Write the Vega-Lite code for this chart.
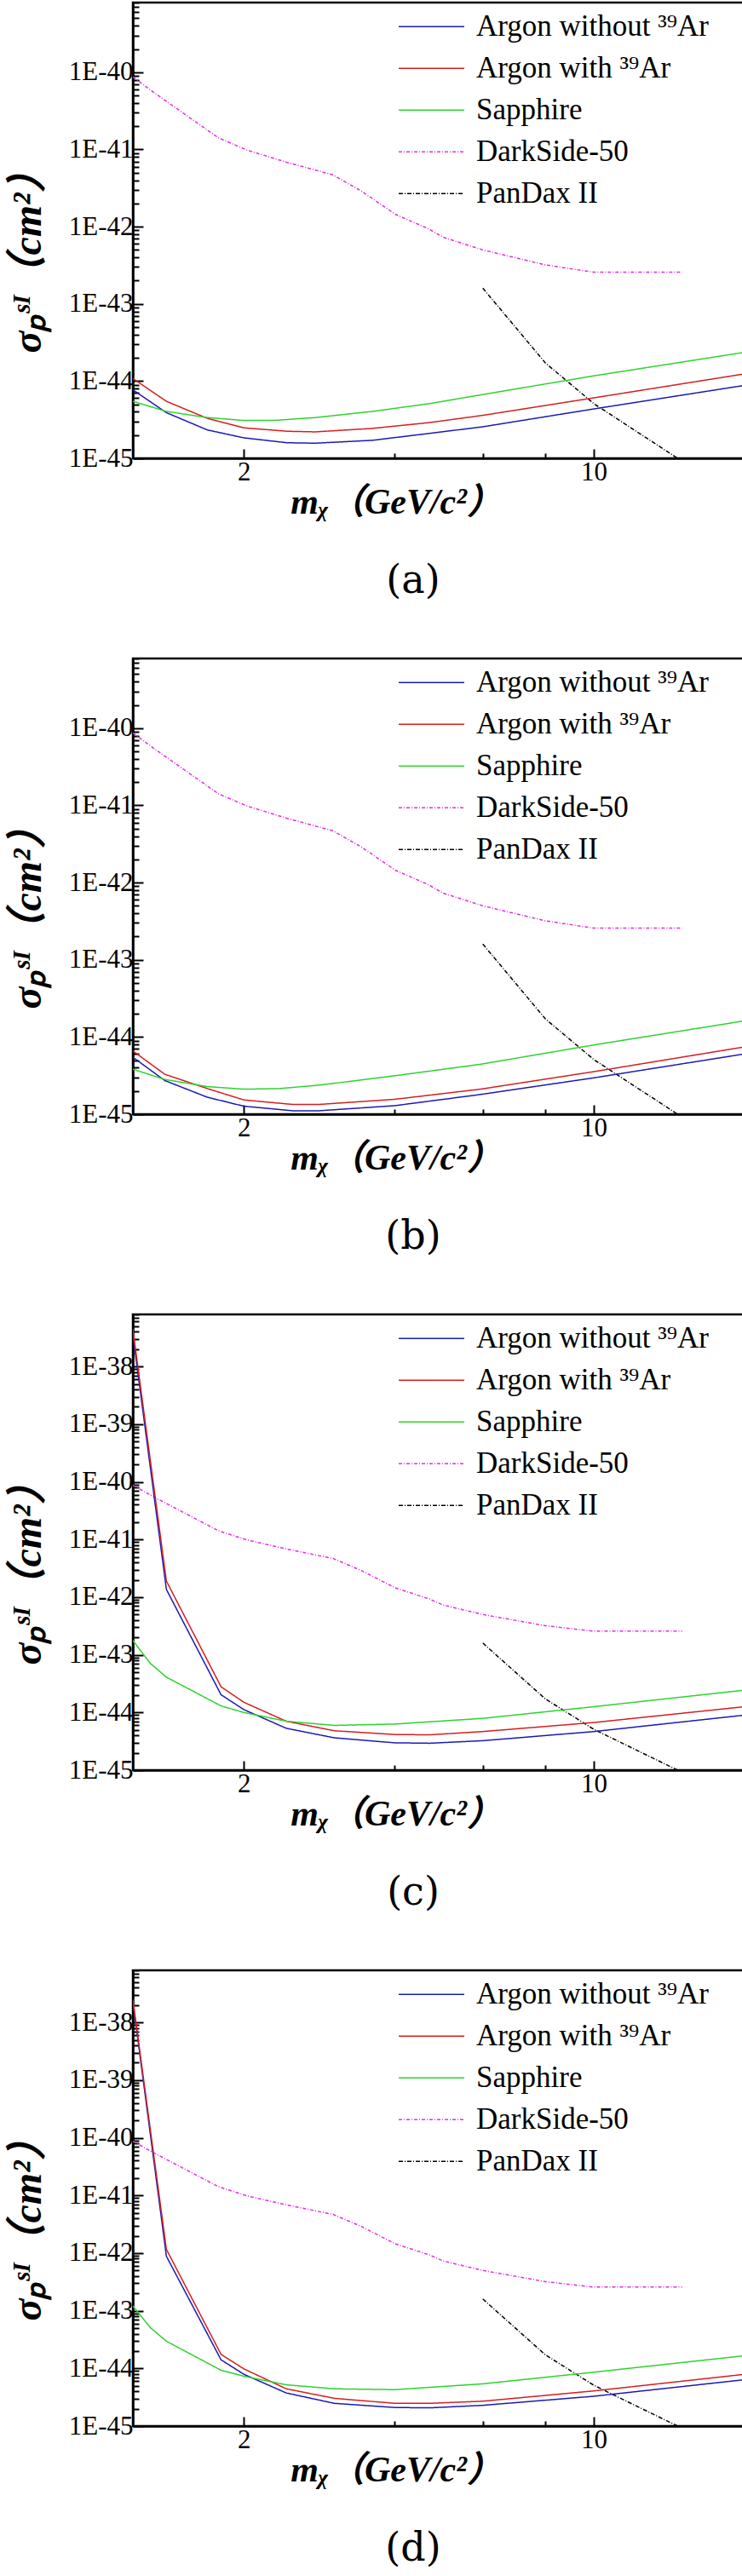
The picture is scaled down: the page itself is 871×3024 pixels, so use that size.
{
  "$schema": "https://vega.github.io/schema/vega-lite/v6.json",
  "background": "white",
  "padding": {"left": 7, "top": 0, "right": 0, "bottom": 0},
  "spacing": 63,
  "config": {
    "view": {"stroke": "black", "strokeWidth": 2.5},
    "axis": {
      "grid": false,
      "domainColor": "black",
      "domainWidth": 2.5,
      "tickColor": "black",
      "tickWidth": 2,
      "labelColor": "black",
      "labelFont": "Liberation Serif",
      "labelFontSize": 31,
      "titleColor": "black",
      "titleFont": "Liberation Serif, Noto Sans CJK SC",
      "titleFontSize": 42,
      "titleFontStyle": "italic",
      "titleFontWeight": "bold"
    },
    "axisY": {"titleFontSize": 48},
    "legend": {
      "labelFont": "Liberation Serif",
      "labelFontSize": 35,
      "labelColor": "black",
      "labelLimit": 600,
      "symbolType": "stroke",
      "symbolSize": 5929,
      "symbolStrokeWidth": 1.5,
      "clipHeight": 48.5,
      "rowPadding": 0,
      "labelOffset": 13,
      "padding": 0
    },
    "title": {
      "font": "DejaVu Serif",
      "fontSize": 46,
      "fontWeight": "normal",
      "color": "black"
    }
  },
  "datasets": {
    "rows": [
      {"p": "ref", "s": "DarkSide-50", "m": 1.2, "y": 8.7e-41},
      {"p": "ref", "s": "DarkSide-50", "m": 1.32, "y": 5.5e-41},
      {"p": "ref", "s": "DarkSide-50", "m": 1.78, "y": 1.41e-41},
      {"p": "ref", "s": "DarkSide-50", "m": 2.03, "y": 9.8e-42},
      {"p": "ref", "s": "DarkSide-50", "m": 2.44, "y": 6.8e-42},
      {"p": "ref", "s": "DarkSide-50", "m": 2.78, "y": 5.4e-42},
      {"p": "ref", "s": "DarkSide-50", "m": 3.01, "y": 4.7e-42},
      {"p": "ref", "s": "DarkSide-50", "m": 3.43, "y": 2.9e-42},
      {"p": "ref", "s": "DarkSide-50", "m": 4.01, "y": 1.45e-42},
      {"p": "ref", "s": "DarkSide-50", "m": 4.69, "y": 9.3e-43},
      {"p": "ref", "s": "DarkSide-50", "m": 5.0, "y": 7.3e-43},
      {"p": "ref", "s": "DarkSide-50", "m": 6.0, "y": 5.0e-43},
      {"p": "ref", "s": "DarkSide-50", "m": 8.0, "y": 3.2e-43},
      {"p": "ref", "s": "DarkSide-50", "m": 10.0, "y": 2.57e-43},
      {"p": "ref", "s": "DarkSide-50", "m": 15.0, "y": 2.57e-43},
      {"p": "ref", "s": "PanDax II", "m": 6.0, "y": 1.6e-43},
      {"p": "ref", "s": "PanDax II", "m": 8.0, "y": 1.72e-44},
      {"p": "ref", "s": "PanDax II", "m": 10.0, "y": 5.1e-45},
      {"p": "ref", "s": "PanDax II", "m": 14.7, "y": 1.0e-45},

      {"p": "a", "s": "Argon without ³⁹Ar", "m": 1.2, "y": 7.7e-45},
      {"p": "a", "s": "Argon without ³⁹Ar", "m": 1.4, "y": 3.9e-45},
      {"p": "a", "s": "Argon without ³⁹Ar", "m": 1.69, "y": 2.33e-45},
      {"p": "a", "s": "Argon without ³⁹Ar", "m": 2.0, "y": 1.84e-45},
      {"p": "a", "s": "Argon without ³⁹Ar", "m": 2.44, "y": 1.59e-45},
      {"p": "a", "s": "Argon without ³⁹Ar", "m": 2.78, "y": 1.57e-45},
      {"p": "a", "s": "Argon without ³⁹Ar", "m": 3.61, "y": 1.71e-45},
      {"p": "a", "s": "Argon without ³⁹Ar", "m": 4.69, "y": 2.1e-45},
      {"p": "a", "s": "Argon without ³⁹Ar", "m": 6.0, "y": 2.56e-45},
      {"p": "a", "s": "Argon without ³⁹Ar", "m": 10.0, "y": 4.36e-45},
      {"p": "a", "s": "Argon without ³⁹Ar", "m": 20.0, "y": 8.8e-45},
      {"p": "a", "s": "Argon with ³⁹Ar", "m": 1.2, "y": 1.08e-44},
      {"p": "a", "s": "Argon with ³⁹Ar", "m": 1.4, "y": 5.47e-45},
      {"p": "a", "s": "Argon with ³⁹Ar", "m": 1.69, "y": 3.29e-45},
      {"p": "a", "s": "Argon with ³⁹Ar", "m": 2.0, "y": 2.48e-45},
      {"p": "a", "s": "Argon with ³⁹Ar", "m": 2.44, "y": 2.24e-45},
      {"p": "a", "s": "Argon with ³⁹Ar", "m": 2.78, "y": 2.2e-45},
      {"p": "a", "s": "Argon with ³⁹Ar", "m": 3.61, "y": 2.44e-45},
      {"p": "a", "s": "Argon with ³⁹Ar", "m": 4.69, "y": 2.9e-45},
      {"p": "a", "s": "Argon with ³⁹Ar", "m": 6.0, "y": 3.6e-45},
      {"p": "a", "s": "Argon with ³⁹Ar", "m": 10.0, "y": 6.07e-45},
      {"p": "a", "s": "Argon with ³⁹Ar", "m": 20.0, "y": 1.24e-44},
      {"p": "a", "s": "Sapphire", "m": 1.2, "y": 5.47e-45},
      {"p": "a", "s": "Sapphire", "m": 1.4, "y": 4.05e-45},
      {"p": "a", "s": "Sapphire", "m": 1.69, "y": 3.37e-45},
      {"p": "a", "s": "Sapphire", "m": 2.0, "y": 3.09e-45},
      {"p": "a", "s": "Sapphire", "m": 2.29, "y": 3.09e-45},
      {"p": "a", "s": "Sapphire", "m": 2.78, "y": 3.37e-45},
      {"p": "a", "s": "Sapphire", "m": 3.61, "y": 4.05e-45},
      {"p": "a", "s": "Sapphire", "m": 4.69, "y": 5.1e-45},
      {"p": "a", "s": "Sapphire", "m": 6.0, "y": 6.7e-45},
      {"p": "a", "s": "Sapphire", "m": 10.0, "y": 1.17e-44},
      {"p": "a", "s": "Sapphire", "m": 20.0, "y": 2.36e-44},

      {"p": "b", "s": "Argon without ³⁹Ar", "m": 1.2, "y": 5.47e-45},
      {"p": "b", "s": "Argon without ³⁹Ar", "m": 1.39, "y": 2.73e-45},
      {"p": "b", "s": "Argon without ³⁹Ar", "m": 1.69, "y": 1.66e-45},
      {"p": "b", "s": "Argon without ³⁹Ar", "m": 2.0, "y": 1.27e-45},
      {"p": "b", "s": "Argon without ³⁹Ar", "m": 2.5, "y": 1.11e-45},
      {"p": "b", "s": "Argon without ³⁹Ar", "m": 2.83, "y": 1.11e-45},
      {"p": "b", "s": "Argon without ³⁹Ar", "m": 4.0, "y": 1.29e-45},
      {"p": "b", "s": "Argon without ³⁹Ar", "m": 5.93, "y": 1.8e-45},
      {"p": "b", "s": "Argon without ³⁹Ar", "m": 10.0, "y": 2.96e-45},
      {"p": "b", "s": "Argon without ³⁹Ar", "m": 20.0, "y": 6.04e-45},
      {"p": "b", "s": "Argon with ³⁹Ar", "m": 1.2, "y": 6.6e-45},
      {"p": "b", "s": "Argon with ³⁹Ar", "m": 1.39, "y": 3.29e-45},
      {"p": "b", "s": "Argon with ³⁹Ar", "m": 1.69, "y": 2.15e-45},
      {"p": "b", "s": "Argon with ³⁹Ar", "m": 2.0, "y": 1.53e-45},
      {"p": "b", "s": "Argon with ³⁹Ar", "m": 2.5, "y": 1.34e-45},
      {"p": "b", "s": "Argon with ³⁹Ar", "m": 2.83, "y": 1.34e-45},
      {"p": "b", "s": "Argon with ³⁹Ar", "m": 4.0, "y": 1.56e-45},
      {"p": "b", "s": "Argon with ³⁹Ar", "m": 5.93, "y": 2.11e-45},
      {"p": "b", "s": "Argon with ³⁹Ar", "m": 10.0, "y": 3.56e-45},
      {"p": "b", "s": "Argon with ³⁹Ar", "m": 20.0, "y": 7.45e-45},
      {"p": "b", "s": "Sapphire", "m": 1.2, "y": 3.83e-45},
      {"p": "b", "s": "Sapphire", "m": 1.39, "y": 2.82e-45},
      {"p": "b", "s": "Sapphire", "m": 1.69, "y": 2.28e-45},
      {"p": "b", "s": "Sapphire", "m": 2.0, "y": 2.11e-45},
      {"p": "b", "s": "Sapphire", "m": 2.35, "y": 2.15e-45},
      {"p": "b", "s": "Sapphire", "m": 2.83, "y": 2.38e-45},
      {"p": "b", "s": "Sapphire", "m": 4.0, "y": 3.15e-45},
      {"p": "b", "s": "Sapphire", "m": 5.93, "y": 4.43e-45},
      {"p": "b", "s": "Sapphire", "m": 10.0, "y": 7.9e-45},
      {"p": "b", "s": "Sapphire", "m": 20.0, "y": 1.62e-44},

      {"p": "c", "s": "Argon without ³⁹Ar", "m": 1.2, "y": 3.5e-38},
      {"p": "c", "s": "Argon without ³⁹Ar", "m": 1.4, "y": 1.36e-42},
      {"p": "c", "s": "Argon without ³⁹Ar", "m": 1.8, "y": 2.03e-44},
      {"p": "c", "s": "Argon without ³⁹Ar", "m": 2.0, "y": 1.12e-44},
      {"p": "c", "s": "Argon without ³⁹Ar", "m": 2.43, "y": 5.32e-45},
      {"p": "c", "s": "Argon without ³⁹Ar", "m": 3.03, "y": 3.64e-45},
      {"p": "c", "s": "Argon without ³⁹Ar", "m": 4.0, "y": 2.98e-45},
      {"p": "c", "s": "Argon without ³⁹Ar", "m": 4.7, "y": 2.93e-45},
      {"p": "c", "s": "Argon without ³⁹Ar", "m": 6.0, "y": 3.24e-45},
      {"p": "c", "s": "Argon without ³⁹Ar", "m": 10.0, "y": 4.67e-45},
      {"p": "c", "s": "Argon without ³⁹Ar", "m": 20.0, "y": 9.0e-45},
      {"p": "c", "s": "Argon with ³⁹Ar", "m": 1.2, "y": 4.4e-38},
      {"p": "c", "s": "Argon with ³⁹Ar", "m": 1.4, "y": 1.9e-42},
      {"p": "c", "s": "Argon with ³⁹Ar", "m": 1.8, "y": 2.79e-44},
      {"p": "c", "s": "Argon with ³⁹Ar", "m": 2.0, "y": 1.5e-44},
      {"p": "c", "s": "Argon with ³⁹Ar", "m": 2.43, "y": 7.05e-45},
      {"p": "c", "s": "Argon with ³⁹Ar", "m": 3.03, "y": 4.82e-45},
      {"p": "c", "s": "Argon with ³⁹Ar", "m": 4.0, "y": 4.15e-45},
      {"p": "c", "s": "Argon with ³⁹Ar", "m": 4.7, "y": 4.1e-45},
      {"p": "c", "s": "Argon with ³⁹Ar", "m": 6.0, "y": 4.67e-45},
      {"p": "c", "s": "Argon with ³⁹Ar", "m": 10.0, "y": 6.7e-45},
      {"p": "c", "s": "Argon with ³⁹Ar", "m": 20.0, "y": 1.26e-44},
      {"p": "c", "s": "Sapphire", "m": 1.2, "y": 1.77e-43},
      {"p": "c", "s": "Sapphire", "m": 1.3, "y": 7.1e-44},
      {"p": "c", "s": "Sapphire", "m": 1.4, "y": 4.1e-44},
      {"p": "c", "s": "Sapphire", "m": 1.8, "y": 1.3e-44},
      {"p": "c", "s": "Sapphire", "m": 2.0, "y": 1.0e-44},
      {"p": "c", "s": "Sapphire", "m": 2.43, "y": 7.05e-45},
      {"p": "c", "s": "Sapphire", "m": 3.03, "y": 5.97e-45},
      {"p": "c", "s": "Sapphire", "m": 4.0, "y": 6.3e-45},
      {"p": "c", "s": "Sapphire", "m": 6.0, "y": 7.9e-45},
      {"p": "c", "s": "Sapphire", "m": 10.0, "y": 1.26e-44},
      {"p": "c", "s": "Sapphire", "m": 20.0, "y": 2.44e-44},

      {"p": "d", "s": "Argon without ³⁹Ar", "m": 1.2, "y": 2.28e-38},
      {"p": "d", "s": "Argon without ³⁹Ar", "m": 1.4, "y": 8.8e-43},
      {"p": "d", "s": "Argon without ³⁹Ar", "m": 1.8, "y": 1.41e-44},
      {"p": "d", "s": "Argon without ³⁹Ar", "m": 2.0, "y": 7.9e-45},
      {"p": "d", "s": "Argon without ³⁹Ar", "m": 2.43, "y": 3.75e-45},
      {"p": "d", "s": "Argon without ³⁹Ar", "m": 3.03, "y": 2.48e-45},
      {"p": "d", "s": "Argon without ³⁹Ar", "m": 4.0, "y": 2.1e-45},
      {"p": "d", "s": "Argon without ³⁹Ar", "m": 4.7, "y": 2.07e-45},
      {"p": "d", "s": "Argon without ³⁹Ar", "m": 6.0, "y": 2.29e-45},
      {"p": "d", "s": "Argon without ³⁹Ar", "m": 10.0, "y": 3.29e-45},
      {"p": "d", "s": "Argon without ³⁹Ar", "m": 20.0, "y": 6.37e-45},
      {"p": "d", "s": "Argon with ³⁹Ar", "m": 1.2, "y": 2.5e-38},
      {"p": "d", "s": "Argon with ³⁹Ar", "m": 1.4, "y": 1.16e-42},
      {"p": "d", "s": "Argon with ³⁹Ar", "m": 1.8, "y": 1.75e-44},
      {"p": "d", "s": "Argon with ³⁹Ar", "m": 2.0, "y": 9.8e-45},
      {"p": "d", "s": "Argon with ³⁹Ar", "m": 2.43, "y": 4.43e-45},
      {"p": "d", "s": "Argon with ³⁹Ar", "m": 3.03, "y": 3.03e-45},
      {"p": "d", "s": "Argon with ³⁹Ar", "m": 4.0, "y": 2.48e-45},
      {"p": "d", "s": "Argon with ³⁹Ar", "m": 4.7, "y": 2.48e-45},
      {"p": "d", "s": "Argon with ³⁹Ar", "m": 6.0, "y": 2.7e-45},
      {"p": "d", "s": "Argon with ³⁹Ar", "m": 10.0, "y": 4.07e-45},
      {"p": "d", "s": "Argon with ³⁹Ar", "m": 20.0, "y": 7.9e-45},
      {"p": "d", "s": "Sapphire", "m": 1.2, "y": 1.21e-43},
      {"p": "d", "s": "Sapphire", "m": 1.3, "y": 5.1e-44},
      {"p": "d", "s": "Sapphire", "m": 1.4, "y": 2.96e-44},
      {"p": "d", "s": "Sapphire", "m": 1.8, "y": 9.3e-45},
      {"p": "d", "s": "Sapphire", "m": 2.0, "y": 7.3e-45},
      {"p": "d", "s": "Sapphire", "m": 2.43, "y": 5.2e-45},
      {"p": "d", "s": "Sapphire", "m": 3.03, "y": 4.43e-45},
      {"p": "d", "s": "Sapphire", "m": 4.0, "y": 4.28e-45},
      {"p": "d", "s": "Sapphire", "m": 6.0, "y": 5.4e-45},
      {"p": "d", "s": "Sapphire", "m": 10.0, "y": 8.6e-45},
      {"p": "d", "s": "Sapphire", "m": 20.0, "y": 1.66e-44}
    ]
  },
  "resolve": {
    "scale": {"color": "independent", "strokeDash": "independent"},
    "legend": {"color": "independent", "strokeDash": "independent"}
  },
  "vconcat": [
    {
      "width": 718,
      "height": 535,
      "data": {"name": "rows"},
      "transform": [{"filter": "datum.p == 'a' || datum.p == 'ref'"}],
      "title": {"text": "(a)", "orient": "bottom", "frame": "group", "dx": -30, "offset": 50},
      "mark": {"type": "line", "strokeWidth": 1.5, "clip": true},
      "encoding": {
        "x": {
          "field": "m", "type": "quantitative",
          "scale": {"type": "log", "domain": [1.2, 20], "nice": false},
          "axis": {
            "title": "mᵪ（GeV/c²）",
            "values": [2, 4, 6, 8, 10],
            "format": "d",
            "labelExpr": "datum.value == 2 || datum.value == 10 ? datum.label : ''",
            "tickSize": {"condition": {"test": "datum.value == 2 || datum.value == 10", "value": -11}, "value": -6},
            "labelPadding": 12,
            "titlePadding": 0,
            "titleX": 309
          }
        },
        "y": {
          "field": "y", "type": "quantitative",
          "scale": {"type": "log", "domain": [1e-45, 8e-40], "nice": false},
          "axis": {
            "title": "σₚˢᴵ（cm²）",
            "values": [1e-45, 2e-45, 3e-45, 4e-45, 5e-45, 6e-45, 7e-45, 8e-45, 9e-45,
                       1e-44, 2e-44, 3e-44, 4e-44, 5e-44, 6e-44, 7e-44, 8e-44, 9e-44,
                       1e-43, 2e-43, 3e-43, 4e-43, 5e-43, 6e-43, 7e-43, 8e-43, 9e-43,
                       1e-42, 2e-42, 3e-42, 4e-42, 5e-42, 6e-42, 7e-42, 8e-42, 9e-42,
                       1e-41, 2e-41, 3e-41, 4e-41, 5e-41, 6e-41, 7e-41, 8e-41, 9e-41,
                       1e-40, 2e-40, 3e-40, 4e-40, 5e-40, 6e-40, 7e-40, 8e-40],
            "labelExpr": "abs(log(datum.value) / LN10 - round(log(datum.value) / LN10)) < 0.001 ? '1E' + round(log(datum.value) / LN10) : ''",
            "tickSize": {"condition": {"test": "abs(log(datum.value) / LN10 - round(log(datum.value) / LN10)) < 0.001", "value": -12}, "value": -7},
            "labelPadding": 12,
            "titlePadding": 23,
            "titleY": 293
          }
        },
        "color": {
          "field": "s", "type": "nominal",
          "scale": {
            "domain": ["Argon without ³⁹Ar", "Argon with ³⁹Ar", "Sapphire", "DarkSide-50", "PanDax II"],
            "range": ["#1a1ab4", "#d41e1e", "#2ed22e", "#e030e0", "#000000"]
          },
          "legend": {"title": null, "orient": "none", "legendX": 311, "legendY": 4}
        },
        "strokeDash": {
          "field": "s", "type": "nominal",
          "scale": {
            "domain": ["Argon without ³⁹Ar", "Argon with ³⁹Ar", "Sapphire", "DarkSide-50", "PanDax II"],
            "range": [[1, 0], [1, 0], [1, 0], [4, 2, 1, 2], [5, 2, 1, 2]]
          },
          "legend": {"title": null, "orient": "none", "legendX": 311, "legendY": 4}
        }
      }
    },
    {
      "width": 718,
      "height": 535,
      "data": {"name": "rows"},
      "transform": [{"filter": "datum.p == 'b' || datum.p == 'ref'"}],
      "title": {"text": "(b)", "orient": "bottom", "frame": "group", "dx": -30, "offset": 50},
      "mark": {"type": "line", "strokeWidth": 1.5, "clip": true},
      "encoding": {
        "x": {
          "field": "m", "type": "quantitative",
          "scale": {"type": "log", "domain": [1.2, 20], "nice": false},
          "axis": {
            "title": "mᵪ（GeV/c²）",
            "values": [2, 4, 6, 8, 10],
            "format": "d",
            "labelExpr": "datum.value == 2 || datum.value == 10 ? datum.label : ''",
            "tickSize": {"condition": {"test": "datum.value == 2 || datum.value == 10", "value": -11}, "value": -6},
            "labelPadding": 12,
            "titlePadding": 0,
            "titleX": 309
          }
        },
        "y": {
          "field": "y", "type": "quantitative",
          "scale": {"type": "log", "domain": [1e-45, 8e-40], "nice": false},
          "axis": {
            "title": "σₚˢᴵ（cm²）",
            "values": [1e-45, 2e-45, 3e-45, 4e-45, 5e-45, 6e-45, 7e-45, 8e-45, 9e-45,
                       1e-44, 2e-44, 3e-44, 4e-44, 5e-44, 6e-44, 7e-44, 8e-44, 9e-44,
                       1e-43, 2e-43, 3e-43, 4e-43, 5e-43, 6e-43, 7e-43, 8e-43, 9e-43,
                       1e-42, 2e-42, 3e-42, 4e-42, 5e-42, 6e-42, 7e-42, 8e-42, 9e-42,
                       1e-41, 2e-41, 3e-41, 4e-41, 5e-41, 6e-41, 7e-41, 8e-41, 9e-41,
                       1e-40, 2e-40, 3e-40, 4e-40, 5e-40, 6e-40, 7e-40, 8e-40],
            "labelExpr": "abs(log(datum.value) / LN10 - round(log(datum.value) / LN10)) < 0.001 ? '1E' + round(log(datum.value) / LN10) : ''",
            "tickSize": {"condition": {"test": "abs(log(datum.value) / LN10 - round(log(datum.value) / LN10)) < 0.001", "value": -12}, "value": -7},
            "labelPadding": 12,
            "titlePadding": 23,
            "titleY": 293
          }
        },
        "color": {
          "field": "s", "type": "nominal",
          "scale": {
            "domain": ["Argon without ³⁹Ar", "Argon with ³⁹Ar", "Sapphire", "DarkSide-50", "PanDax II"],
            "range": ["#1a1ab4", "#d41e1e", "#2ed22e", "#e030e0", "#000000"]
          },
          "legend": {"title": null, "orient": "none", "legendX": 311, "legendY": 4}
        },
        "strokeDash": {
          "field": "s", "type": "nominal",
          "scale": {
            "domain": ["Argon without ³⁹Ar", "Argon with ³⁹Ar", "Sapphire", "DarkSide-50", "PanDax II"],
            "range": [[1, 0], [1, 0], [1, 0], [4, 2, 1, 2], [5, 2, 1, 2]]
          },
          "legend": {"title": null, "orient": "none", "legendX": 311, "legendY": 4}
        }
      }
    },
    {
      "width": 718,
      "height": 535,
      "data": {"name": "rows"},
      "transform": [{"filter": "datum.p == 'c' || datum.p == 'ref'"}],
      "title": {"text": "(c)", "orient": "bottom", "frame": "group", "dx": -30, "offset": 50},
      "mark": {"type": "line", "strokeWidth": 1.5, "clip": true},
      "encoding": {
        "x": {
          "field": "m", "type": "quantitative",
          "scale": {"type": "log", "domain": [1.2, 20], "nice": false},
          "axis": {
            "title": "mᵪ（GeV/c²）",
            "values": [2, 4, 6, 8, 10],
            "format": "d",
            "labelExpr": "datum.value == 2 || datum.value == 10 ? datum.label : ''",
            "tickSize": {"condition": {"test": "datum.value == 2 || datum.value == 10", "value": -11}, "value": -6},
            "labelPadding": 12,
            "titlePadding": 0,
            "titleX": 309
          }
        },
        "y": {
          "field": "y", "type": "quantitative",
          "scale": {"type": "log", "domain": [1e-45, 8e-38], "nice": false},
          "axis": {
            "title": "σₚˢᴵ（cm²）",
            "values": [1e-45, 2e-45, 3e-45, 4e-45, 5e-45, 6e-45, 7e-45, 8e-45, 9e-45,
                       1e-44, 2e-44, 3e-44, 4e-44, 5e-44, 6e-44, 7e-44, 8e-44, 9e-44,
                       1e-43, 2e-43, 3e-43, 4e-43, 5e-43, 6e-43, 7e-43, 8e-43, 9e-43,
                       1e-42, 2e-42, 3e-42, 4e-42, 5e-42, 6e-42, 7e-42, 8e-42, 9e-42,
                       1e-41, 2e-41, 3e-41, 4e-41, 5e-41, 6e-41, 7e-41, 8e-41, 9e-41,
                       1e-40, 2e-40, 3e-40, 4e-40, 5e-40, 6e-40, 7e-40, 8e-40, 9e-40,
                       1e-39, 2e-39, 3e-39, 4e-39, 5e-39, 6e-39, 7e-39, 8e-39, 9e-39,
                       1e-38, 2e-38, 3e-38, 4e-38, 5e-38, 6e-38, 7e-38, 8e-38],
            "labelExpr": "abs(log(datum.value) / LN10 - round(log(datum.value) / LN10)) < 0.001 ? '1E' + round(log(datum.value) / LN10) : ''",
            "tickSize": {"condition": {"test": "abs(log(datum.value) / LN10 - round(log(datum.value) / LN10)) < 0.001", "value": -12}, "value": -7},
            "labelPadding": 12,
            "titlePadding": 23,
            "titleY": 293
          }
        },
        "color": {
          "field": "s", "type": "nominal",
          "scale": {
            "domain": ["Argon without ³⁹Ar", "Argon with ³⁹Ar", "Sapphire", "DarkSide-50", "PanDax II"],
            "range": ["#1a1ab4", "#d41e1e", "#2ed22e", "#e030e0", "#000000"]
          },
          "legend": {"title": null, "orient": "none", "legendX": 311, "legendY": 4}
        },
        "strokeDash": {
          "field": "s", "type": "nominal",
          "scale": {
            "domain": ["Argon without ³⁹Ar", "Argon with ³⁹Ar", "Sapphire", "DarkSide-50", "PanDax II"],
            "range": [[1, 0], [1, 0], [1, 0], [4, 2, 1, 2], [5, 2, 1, 2]]
          },
          "legend": {"title": null, "orient": "none", "legendX": 311, "legendY": 4}
        }
      }
    },
    {
      "width": 718,
      "height": 535,
      "data": {"name": "rows"},
      "transform": [{"filter": "datum.p == 'd' || datum.p == 'ref'"}],
      "title": {"text": "(d)", "orient": "bottom", "frame": "group", "dx": -30, "offset": 50},
      "mark": {"type": "line", "strokeWidth": 1.5, "clip": true},
      "encoding": {
        "x": {
          "field": "m", "type": "quantitative",
          "scale": {"type": "log", "domain": [1.2, 20], "nice": false},
          "axis": {
            "title": "mᵪ（GeV/c²）",
            "values": [2, 4, 6, 8, 10],
            "format": "d",
            "labelExpr": "datum.value == 2 || datum.value == 10 ? datum.label : ''",
            "tickSize": {"condition": {"test": "datum.value == 2 || datum.value == 10", "value": -11}, "value": -6},
            "labelPadding": 12,
            "titlePadding": 0,
            "titleX": 309
          }
        },
        "y": {
          "field": "y", "type": "quantitative",
          "scale": {"type": "log", "domain": [1e-45, 8e-38], "nice": false},
          "axis": {
            "title": "σₚˢᴵ（cm²）",
            "values": [1e-45, 2e-45, 3e-45, 4e-45, 5e-45, 6e-45, 7e-45, 8e-45, 9e-45,
                       1e-44, 2e-44, 3e-44, 4e-44, 5e-44, 6e-44, 7e-44, 8e-44, 9e-44,
                       1e-43, 2e-43, 3e-43, 4e-43, 5e-43, 6e-43, 7e-43, 8e-43, 9e-43,
                       1e-42, 2e-42, 3e-42, 4e-42, 5e-42, 6e-42, 7e-42, 8e-42, 9e-42,
                       1e-41, 2e-41, 3e-41, 4e-41, 5e-41, 6e-41, 7e-41, 8e-41, 9e-41,
                       1e-40, 2e-40, 3e-40, 4e-40, 5e-40, 6e-40, 7e-40, 8e-40, 9e-40,
                       1e-39, 2e-39, 3e-39, 4e-39, 5e-39, 6e-39, 7e-39, 8e-39, 9e-39,
                       1e-38, 2e-38, 3e-38, 4e-38, 5e-38, 6e-38, 7e-38, 8e-38],
            "labelExpr": "abs(log(datum.value) / LN10 - round(log(datum.value) / LN10)) < 0.001 ? '1E' + round(log(datum.value) / LN10) : ''",
            "tickSize": {"condition": {"test": "abs(log(datum.value) / LN10 - round(log(datum.value) / LN10)) < 0.001", "value": -12}, "value": -7},
            "labelPadding": 12,
            "titlePadding": 23,
            "titleY": 293
          }
        },
        "color": {
          "field": "s", "type": "nominal",
          "scale": {
            "domain": ["Argon without ³⁹Ar", "Argon with ³⁹Ar", "Sapphire", "DarkSide-50", "PanDax II"],
            "range": ["#1a1ab4", "#d41e1e", "#2ed22e", "#e030e0", "#000000"]
          },
          "legend": {"title": null, "orient": "none", "legendX": 311, "legendY": 4}
        },
        "strokeDash": {
          "field": "s", "type": "nominal",
          "scale": {
            "domain": ["Argon without ³⁹Ar", "Argon with ³⁹Ar", "Sapphire", "DarkSide-50", "PanDax II"],
            "range": [[1, 0], [1, 0], [1, 0], [4, 2, 1, 2], [5, 2, 1, 2]]
          },
          "legend": {"title": null, "orient": "none", "legendX": 311, "legendY": 4}
        }
      }
    }
  ]
}
